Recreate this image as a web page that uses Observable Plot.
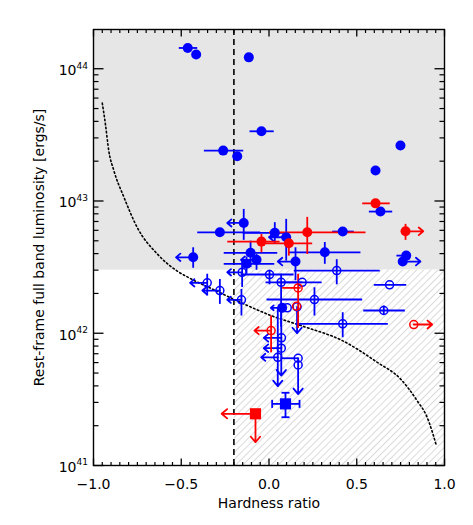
<!DOCTYPE html>
<html><head><meta charset="utf-8">
<script src="https://cdn.jsdelivr.net/npm/d3@7"></script>
<script src="https://cdn.jsdelivr.net/npm/@observablehq/plot@0.6"></script>
<style>body{margin:0;background:#fff} #chart svg{display:block}</style>
</head><body><div id="chart"></div><script>
// ---- data (hardness ratio hr, log10 luminosity lg; xl/xh, yl/yh = error ends; ax/ay = limit arrow tips) ----
const HR_CUT = -0.2;
const L_CUT = 3e42;
const xDomain = [-1, 1];
const yDomain = [1e41, 1.98e44];

const curveHR  = [-0.95, -0.932, -0.913, -0.884, -0.827, -0.751, -0.637, -0.523, -0.457, -0.3, -0.124, 0.009, 0.2, 0.417, 0.617, 0.749, 0.844, 0.901, 0.954];
const curveLog = [43.74, 43.58, 43.38, 43.23, 43.03, 42.80, 42.60, 42.47, 42.42, 42.32, 42.21, 42.135, 42.05, 41.945, 41.78, 41.655, 41.49, 41.365, 41.15];

const blueFilled = [
  {hr:-0.463, lg:44.157, xl:-0.514, xh:-0.409},
  {hr:-0.415, lg:44.107},
  {hr:-0.115, lg:44.086},
  {hr:-0.043, lg:43.527, xl:-0.111, xh:0.027},
  {hr:-0.261, lg:43.381, xl:-0.371, xh:-0.147},
  {hr:-0.181, lg:43.338},
  {hr:0.607, lg:43.23},
  {hr:0.749, lg:43.419},
  {hr:0.635, lg:42.92, xl:0.569, xh:0.702},
  {hr:0.782, lg:42.587, xl:0.726, xh:0.806},
  {hr:0.762, lg:42.542, yl:42.52, yh:42.57, ax:0.863},
  {hr:0.42, lg:42.769, xl:0.36, xh:0.483},
  {hr:-0.144, lg:42.834, yl:42.706, yh:42.94, ax:-0.238},
  {hr:-0.28, lg:42.763, xl:-0.409, xh:-0.05},
  {hr:0.033, lg:42.759, xl:-0.15, xh:0.10, yl:42.676, yh:42.84},
  {hr:0.098, lg:42.726, yl:42.549, yh:42.865, ax:0.0},
  {hr:0.318, lg:42.612, xl:0.113, xh:0.521, yl:42.525, yh:42.69},
  {hr:-0.105, lg:42.608, xl:-0.258, xh:0.047, yl:42.50, yh:42.70},
  {hr:-0.071, lg:42.555, yl:42.48, yh:42.60, ax:-0.16},
  {hr:-0.128, lg:42.525, xl:-0.258, xh:0.03, yl:42.45, yh:42.58},
  {hr:0.151, lg:42.542, yl:42.40, yh:42.65, ax:0.05},
  {hr:-0.432, lg:42.574, yl:42.495, yh:42.65, ax:-0.53},
  {hr:0.075, lg:42.192, ax:0.01}
];
const redFilled = [
  {hr:0.607, lg:42.982, xl:0.531, xh:0.688},
  {hr:0.778, lg:42.771, yl:42.706, yh:42.827, ax:0.879},
  {hr:0.218, lg:42.763, xl:0.0, xh:0.55, yl:42.6, yh:42.88},
  {hr:-0.043, lg:42.693, xl:-0.238, xh:0.06, yl:42.612, yh:42.751},
  {hr:0.113, lg:42.68, xl:-0.02, xh:0.246, yl:42.587, yh:42.74}
];
const blueOpen = [
  {hr:-0.153, lg:42.461, yl:42.35, yh:42.55, ax:-0.238},
  {hr:0.003, lg:42.444, xl:-0.162, xh:0.14, yl:42.37, yh:42.48},
  {hr:0.386, lg:42.474, xl:0.141, xh:0.631, yl:42.37, yh:42.56},
  {hr:0.687, lg:42.366, xl:0.597, xh:0.782},
  {hr:0.654, lg:42.172, xl:0.537, xh:0.774, yl:42.14, yh:42.21},
  {hr:0.42, lg:42.071, xl:0.151, xh:0.677, yl:41.97, yh:42.159},
  {hr:0.259, lg:42.255, xl:-0.014, xh:0.531, yl:42.134, yh:42.348},
  {hr:0.069, lg:42.385, xl:-0.02, xh:0.19, yl:42.05, yh:42.45},
  {hr:0.189, lg:42.385, xl:0.05, xh:0.30},
  {hr:-0.157, lg:42.253, yl:42.134, yh:42.335, ax:-0.238},
  {hr:-0.352, lg:42.381, yl:42.285, yh:42.45, ax:-0.45},
  {hr:-0.28, lg:42.323, yl:42.222, yh:42.41, ax:-0.38},
  {hr:0.104, lg:42.192},
  {hr:0.16, lg:42.2, ay:42.0},
  {hr:0.071, lg:41.965, ax:-0.03},
  {hr:0.07, lg:41.887, yh:42.2, ax:-0.03, ay:41.68},
  {hr:0.05, lg:41.818, yh:42.2, ax:-0.045, ay:41.6},
  {hr:0.166, lg:41.811, xl:0.066, xh:0.166, ay:41.54},
  {hr:0.166, lg:41.76}
];
const redOpen = [
  {hr:0.166, lg:42.343, xl:0.075, xh:0.18, yl:42.04, yh:42.45},
  {hr:0.157, lg:42.204},
  {hr:0.012, lg:42.02, yl:41.856, yh:42.134, ax:-0.083},
  {hr:0.825, lg:42.066, ax:0.93}
];
const redSquare  = [{hr:-0.077, lg:41.391, ax:-0.27, ay:41.176}];
const blueSquare = [{hr:0.094, lg:41.466, xl:0.018, xh:0.174, yl:41.365, yh:41.55}];

const xMajor = [-1, -0.5, 0, 0.5, 1];
const xMinor = d3.range(-20, 21).map(i => i / 20).filter(v => !xMajor.some(m => Math.abs(m - v) < 1e-9));
const yMajor = [1e41, 1e42, 1e43, 1e44];
const yMinor = [];
for (const e of [41, 42, 43, 44]) for (let k = 2; k <= 9; k++) { const v = k * 10 ** e; if (v <= yDomain[1]) yMinor.push(v); }

// ---- helpers ----
const BLUE = "#0000ff", RED = "#ff0000";
const L = lg => 10 ** lg;
const sym = (dx, dy) => ({draw(ctx) { ctx.moveTo(0, 0); ctx.lineTo(dx, dy); }});
const cap = (dx, dy) => ({draw(ctx) { ctx.moveTo(-dx, -dy); ctx.lineTo(dx, dy); }});
const SW = 1.8;

function errMarks(data, color) {
  return [
    Plot.link(data.filter(d => d.xl != null), {x1: "xl", x2: "xh", y1: d => L(d.lg), y2: d => L(d.lg), stroke: color, strokeWidth: SW}),
    Plot.link(data.filter(d => d.yl != null || d.yh != null), {x1: "hr", x2: "hr", y1: d => L(d.yl ?? d.lg), y2: d => L(d.yh ?? d.lg), stroke: color, strokeWidth: SW}),
    Plot.arrow(data.filter(d => d.ax != null), {x1: "hr", x2: "ax", y1: d => L(d.lg), y2: d => L(d.lg), stroke: color, strokeWidth: SW, headLength: 6, headAngle: 80}),
    Plot.arrow(data.filter(d => d.ay != null), {x1: "hr", x2: "hr", y1: d => L(d.lg), y2: d => L(d.ay), stroke: color, strokeWidth: SW, headLength: 6, headAngle: 80})
  ];
}
const curve = curveHR.map((h, i) => ({hr: h, lg: curveLog[i]}));
const fmtX = d => (d < 0 ? "\u2212" : "") + Math.abs(d).toFixed(1);

const svg = Plot.plot({
  width: 473, height: 525,
  marginLeft: 93, marginRight: 29, marginTop: 29, marginBottom: 60,
  style: {fontFamily: "DejaVu Sans", fontSize: "14px", background: "#fff", color: "#000"},
  x: {domain: xDomain, axis: null},
  y: {type: "log", domain: yDomain, axis: null},
  marks: [
    Plot.rect([0], {x1: xDomain[0], x2: xDomain[1], y1: L_CUT, y2: yDomain[1], fill: "#e6e6e6"}),
    Plot.rect([0], {x1: HR_CUT, x2: xDomain[1], y1: yDomain[0], y2: L_CUT, fill: "url(#hatch)"}),
    Plot.ruleX([HR_CUT], {stroke: "#000", strokeWidth: 1.6, strokeDasharray: "6,4"}),
    Plot.line(curve, {x: "hr", y: d => L(d.lg), curve: "monotone-x", stroke: "#000", strokeWidth: 1.6, strokeDasharray: "1.5,2.6"}),
    errMarks(blueOpen, BLUE),
    errMarks(redOpen, RED),
    errMarks(blueFilled, BLUE),
    errMarks(redFilled, RED),
    errMarks(redSquare, RED),
    errMarks(blueSquare, BLUE),
    Plot.dot(blueSquare, {x: "xl", y: d => L(d.lg), symbol: cap(0, 4), fill: "none", stroke: BLUE, strokeWidth: SW}),
    Plot.dot(blueSquare, {x: "xh", y: d => L(d.lg), symbol: cap(0, 4), fill: "none", stroke: BLUE, strokeWidth: SW}),
    Plot.dot(blueSquare, {x: "hr", y: d => L(d.yl), symbol: cap(4, 0), fill: "none", stroke: BLUE, strokeWidth: SW}),
    Plot.dot(blueSquare, {x: "hr", y: d => L(d.yh), symbol: cap(4, 0), fill: "none", stroke: BLUE, strokeWidth: SW}),
    Plot.dot(blueOpen, {x: "hr", y: d => L(d.lg), r: 4, fill: "none", stroke: BLUE, strokeWidth: 1.5}),
    Plot.dot(redOpen, {x: "hr", y: d => L(d.lg), r: 4, fill: "none", stroke: RED, strokeWidth: 1.5}),
    Plot.dot(blueFilled, {x: "hr", y: d => L(d.lg), r: 5, fill: BLUE, stroke: "none"}),
    Plot.dot(redFilled, {x: "hr", y: d => L(d.lg), r: 5, fill: RED, stroke: "none"}),
    Plot.dot(redSquare, {x: "hr", y: d => L(d.lg), symbol: "square", r: 6.3, fill: RED, stroke: "none"}),
    Plot.dot(blueSquare, {x: "hr", y: d => L(d.lg), symbol: "square", r: 6.3, fill: BLUE, stroke: "none"}),
    Plot.frame({stroke: "#000", strokeWidth: 1.4}),
    // inward ticks
    Plot.dot(xMajor, {x: d => d, frameAnchor: "bottom", symbol: sym(0, -7), fill: "none", stroke: "#000", strokeWidth: 1.3}),
    Plot.dot(xMinor, {x: d => d, frameAnchor: "bottom", symbol: sym(0, -3.5), fill: "none", stroke: "#000", strokeWidth: 1.2}),
    Plot.dot(xMajor, {x: d => d, frameAnchor: "top", symbol: sym(0, 7), fill: "none", stroke: "#000", strokeWidth: 1.3}),
    Plot.dot(xMinor, {x: d => d, frameAnchor: "top", symbol: sym(0, 3.5), fill: "none", stroke: "#000", strokeWidth: 1.2}),
    Plot.dot(yMajor, {y: d => d, frameAnchor: "left", symbol: sym(10, 0), fill: "none", stroke: "#000", strokeWidth: 1.3}),
    Plot.dot(yMinor, {y: d => d, frameAnchor: "left", symbol: sym(5, 0), fill: "none", stroke: "#000", strokeWidth: 1.2}),
    Plot.dot(yMajor, {y: d => d, frameAnchor: "right", symbol: sym(-10, 0), fill: "none", stroke: "#000", strokeWidth: 1.3}),
    Plot.dot(yMinor, {y: d => d, frameAnchor: "right", symbol: sym(-5, 0), fill: "none", stroke: "#000", strokeWidth: 1.2}),
    // tick labels
    Plot.text(xMajor, {x: d => d, frameAnchor: "bottom", dy: 19, lineAnchor: "middle", textAnchor: "middle", text: fmtX, fontSize: 14, fill: "#000"}),
    Plot.text(yMajor, {y: d => d, frameAnchor: "left", dx: -17, dy: 2, lineAnchor: "middle", text: () => "10", textAnchor: "end", fontSize: 14, fill: "#000"}),
    Plot.text(yMajor, {y: d => d, frameAnchor: "left", dx: -17, dy: -3, lineAnchor: "middle", text: d => String(Math.round(Math.log10(d))), textAnchor: "start", fontSize: 9, fill: "#000"}),
    // axis titles
    Plot.text(["Hardness ratio"], {frameAnchor: "bottom", dy: 38, lineAnchor: "middle", textAnchor: "middle", text: d => d, fontSize: 14, fill: "#000"}),
    Plot.text(["Rest-frame full band luminosity [ergs/s]"], {frameAnchor: "left", dx: -54, rotate: -90, lineAnchor: "middle", textAnchor: "middle", text: d => d, fontSize: 14, fill: "#000"})
  ]
});
d3.select(svg).insert("defs", ":first-child").html(
  '<pattern id="hatch" patternUnits="userSpaceOnUse" width="5" height="5" patternTransform="rotate(45)">' +
  '<rect width="5" height="5" fill="#fff"/><line x1="0" y1="0" x2="0" y2="5" stroke="#d6d6d6" stroke-width="1.8"/></pattern>');
document.getElementById("chart").appendChild(svg);
</script></body></html>
